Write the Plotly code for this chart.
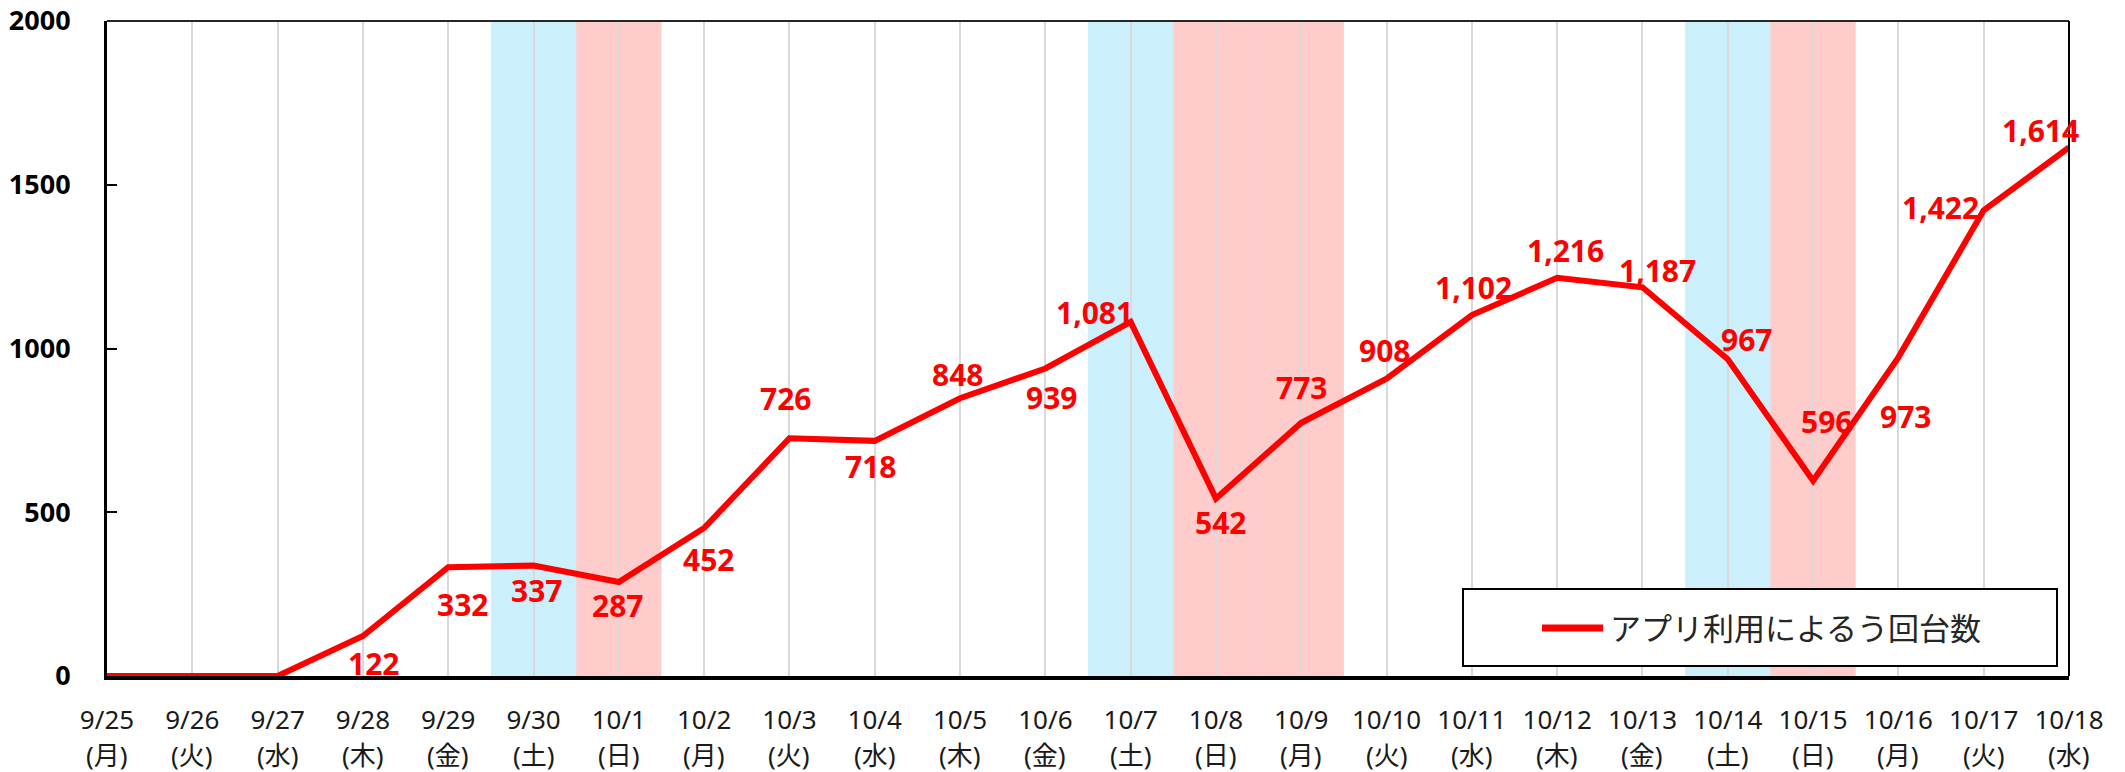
import plotly.graph_objects as go

dates = ['9/25', '9/26', '9/27', '9/28', '9/29', '9/30', '10/1', '10/2', '10/3', '10/4',
         '10/5', '10/6', '10/7', '10/8', '10/9', '10/10', '10/11', '10/12', '10/13',
         '10/14', '10/15', '10/16', '10/17', '10/18']
weekdays = ['月', '火', '水', '木', '金', '土', '日', '月', '火', '水', '木', '金', '土',
            '日', '月', '火', '水', '木', '金', '土', '日', '月', '火', '水']
values = [0, 0, 0, 122, 332, 337, 287, 452, 726, 718, 848, 939, 1081, 542, 773, 908,
          1102, 1216, 1187, 967, 596, 973, 1422, 1614]
series_name = 'アプリ利用によるう回台数'
saturdays = ['9/30', '10/7', '10/14']
holidays = ['10/1', '10/8', '10/9', '10/15']
y_ticks = [0, 500, 1000, 1500, 2000]

# label offsets in pixels (dx right, dy down) for each point
label_offsets = [(0, 0), (0, 0), (0, 0), (11, 27), (14, 37), (3, 25), (-1, 23), (4, 32),
                 (-4, -40), (-4, 26), (-3, -24), (6, 29), (-36, -9), (5, 24), (0, -35),
                 (-2, -28), (2, -28), (8, -27), (15, -17), (19, -20), (13, -59), (7, 59),
                 (-43, -3), (-29, -17)]

W, H = 2125, 772
L, R, T, B = 107, 2069, 21, 676   # plot area in page pixels
FONT = 'Noto Sans, Noto Sans CJK JP, sans-serif'
pw, ph = R - L, B - T


def px(xp):
    return (xp - L) / pw


def py(yp):
    return (B - yp) / ph


fig = go.Figure()
fig.add_trace(go.Scatter(
    x=dates, y=values, mode='lines', name=series_name,
    line=dict(color='#FF0000', width=6), cliponaxis=False, showlegend=False,
))

shapes = []
for d in saturdays:
    i = dates.index(d)
    shapes.append(dict(type='rect', xref='x', yref='paper', x0=i - 0.5, x1=i + 0.5, y0=0, y1=1,
                       fillcolor='rgba(0,176,240,0.2)', line=dict(width=0), layer='between'))
for d in holidays:
    i = dates.index(d)
    shapes.append(dict(type='rect', xref='x', yref='paper', x0=i - 0.5, x1=i + 0.5, y0=0, y1=1,
                       fillcolor='rgba(255,0,0,0.2)', line=dict(width=0), layer='between'))
# top and right borders
shapes.append(dict(type='line', xref='paper', yref='paper', x0=0, x1=1, y0=1, y1=1,
                   line=dict(color='#262626', width=2), layer='above'))
shapes.append(dict(type='line', xref='paper', yref='paper', x0=1, x1=1, y0=0, y1=1,
                   line=dict(color='#000000', width=2), layer='above'))
# legend box and sample line
shapes.append(dict(type='rect', xref='paper', yref='paper',
                   x0=px(1463), x1=px(2057), y0=py(666), y1=py(589),
                   fillcolor='white', line=dict(color='#000000', width=2), layer='above'))
shapes.append(dict(type='line', xref='paper', yref='paper',
                   x0=px(1542), x1=px(1603), y0=py(628), y1=py(628),
                   line=dict(color='#FF0000', width=7), layer='above'))

annotations = []
for i, v in enumerate(values):
    if v == 0:
        continue
    dx, dy = label_offsets[i]
    annotations.append(dict(x=dates[i], y=v, xref='x', yref='y', text=f'{v:,}',
                            showarrow=False, xshift=dx, yshift=-dy,
                            xanchor='center', yanchor='middle',
                            font=dict(family=FONT, size=30, color='#FF0000', weight='bold')))
for i, wd in enumerate(weekdays):
    annotations.append(dict(x=dates[i], y=0, xref='x', yref='y', text=f'({wd})',
                            showarrow=False, yshift=-(755 - B), xanchor='center', yanchor='middle',
                            font=dict(family=FONT, size=26, color='#1a1a1a')))
annotations.append(dict(x=px(1608), y=py(628), xref='paper', yref='paper', text=series_name,
                        showarrow=False, xanchor='left', yanchor='middle',
                        font=dict(family=FONT, size=31, color='#262626')))

fig.update_layout(
    width=W, height=H,
    margin=dict(l=L, r=W - R, t=T, b=H - B, pad=0, autoexpand=False),
    paper_bgcolor='white', plot_bgcolor='white',
    shapes=shapes, annotations=annotations,
    showlegend=False,
    xaxis=dict(type='category', range=[0, len(dates) - 1], showgrid=True, automargin=False,
               gridcolor='#d9d9d9', gridwidth=2, showline=True, linecolor='#000000',
               linewidth=4, ticks='', tickmode='array', tickvals=dates, ticktext=dates,
               tickfont=dict(family=FONT, size=26, color='#1a1a1a'),
               ticklabelstandoff=18, zeroline=False, ticklabeloverflow='allow'),
    yaxis=dict(range=[0, 2000], tickvals=y_ticks, showgrid=False, zeroline=False,
               automargin=False, ticklabeloverflow='allow',
               showline=True, linecolor='#000000', linewidth=3,
               ticks='inside', ticklen=10, tickwidth=2, tickcolor='#000000',
               tickfont=dict(family=FONT, size=27, color='#000000', weight='bold'),
               ticklabelstandoff=28),
)

fig.write_html('out.html', config={'displayModeBar': False},
               post_script="document.body.style.margin='0px';")
